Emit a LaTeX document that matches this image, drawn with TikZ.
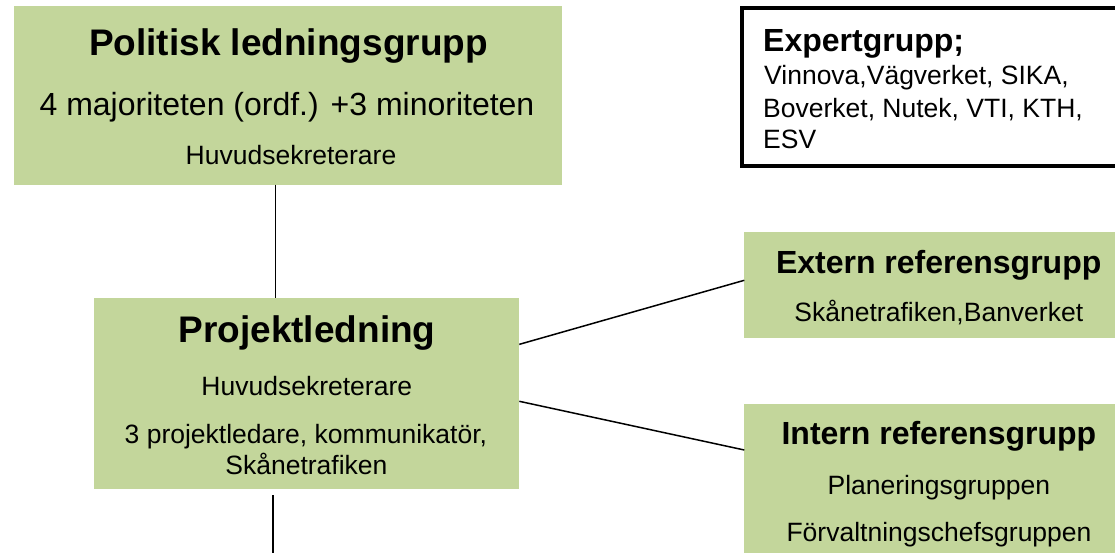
\documentclass[tikz,border=0pt]{standalone}
\usepackage{fontspec}
\setmainfont{Liberation Sans}
\definecolor{boxgreen}{HTML}{C3D69B}
\begin{document}
\begin{tikzpicture}[x=1pt,y=-1pt,
  gbox/.style={fill=boxgreen, draw=none, inner sep=0pt, outer sep=0pt},
  ebox/.style={draw=black, line width=4pt, fill=white, inner sep=0pt, outer sep=0pt},
  conn/.style={draw=black, line width=1.5pt},
  bigttl/.style={font=\fontsize{37}{44}\selectfont\bfseries, inner sep=0pt, anchor=base},
  ttl/.style={font=\fontsize{32}{38}\selectfont\bfseries, inner sep=0pt, anchor=base},
  subt/.style={font=\fontsize{32}{38}\selectfont, inner sep=0pt, anchor=base},
  sml/.style={font=\fontsize{26.5}{32}\selectfont, inner sep=0pt, anchor=base},
  expt/.style={inner sep=0pt, anchor=base west}]
\useasboundingbox (0,0) rectangle (1115,553);
\clip (0,0) rectangle (1115,553);
% boxes
\node[gbox, minimum width=548pt, minimum height=178.7pt] (pol) at (287.7,95.35) {};
\node[gbox, minimum width=425.3pt, minimum height=191.3pt] (pro) at (306.65,393.35) {};
\node[gbox, minimum width=389.4pt, minimum height=105.4pt] (ext) at (939,285) {};
\node[gbox, minimum width=389.4pt, minimum height=161pt] (int) at (939,484.5) {};
\node[ebox, minimum width=400pt, minimum height=158.3pt, anchor=north west] (exp) at (742,8) {};
% texts: Politisk ledningsgrupp
\node[bigttl] (polt) at (288.4,56) {Politisk ledningsgrupp};
\node[subt] (pols) at (287,116) {4 majoriteten (ordf.) +3 minoriteten};
\node[sml] (polh) at (291,165) {Huvudsekreterare};
% Projektledning
\node[bigttl] (prot) at (307,342.7) {Projektledning};
\node[sml] (proh) at (306.8,395) {Huvudsekreterare};
\node[sml] (prol1) at (305.9,443.3) {3 projektledare, kommunikatör,};
\node[sml] (prol2) at (306.4,474) {Skånetrafiken};
% Expertgrupp
\node[expt, font=\fontsize{32}{38}\selectfont\bfseries] (expt1) at (763,51.7) {Expertgrupp;};
\node[expt, font=\fontsize{26.5}{32}\selectfont] (expt2) at (764,85) {Vinnova,Vägverket, SIKA,};
\node[expt, font=\fontsize{26.5}{32}\selectfont] (expt3) at (763,117.3) {Boverket, Nutek, VTI, KTH,};
\node[expt, font=\fontsize{26.5}{32}\selectfont] (expt4) at (763,148.3) {ESV};
% Extern
\node[ttl] (extt) at (938.7,273.3) {Extern referensgrupp};
\node[sml] (exts) at (938.8,321.7) {Skånetrafiken,Banverket};
% Intern
\node[ttl] (intt) at (938.9,444) {Intern referensgrupp};
\node[sml] (ints1) at (938.8,494) {Planeringsgruppen};
\node[sml] (ints2) at (939,541.7) {Förvaltningschefsgruppen};
% connectors
\coordinate (t1) at ([xshift=-12pt]pol.south);
\draw[conn] (t1) -- (t1 |- pro.north);
\draw[conn] ([yshift=49pt]pro.east) -- ([yshift=4.7pt]ext.west);
\draw[conn] ([yshift=-7.95pt]pro.east) -- ([yshift=34.5pt]int.west);
\coordinate (bot) at (273,560);
\draw[conn] (bot |- pro.south) ++(0pt,-6pt) -- (bot);
\end{tikzpicture}
\end{document}
